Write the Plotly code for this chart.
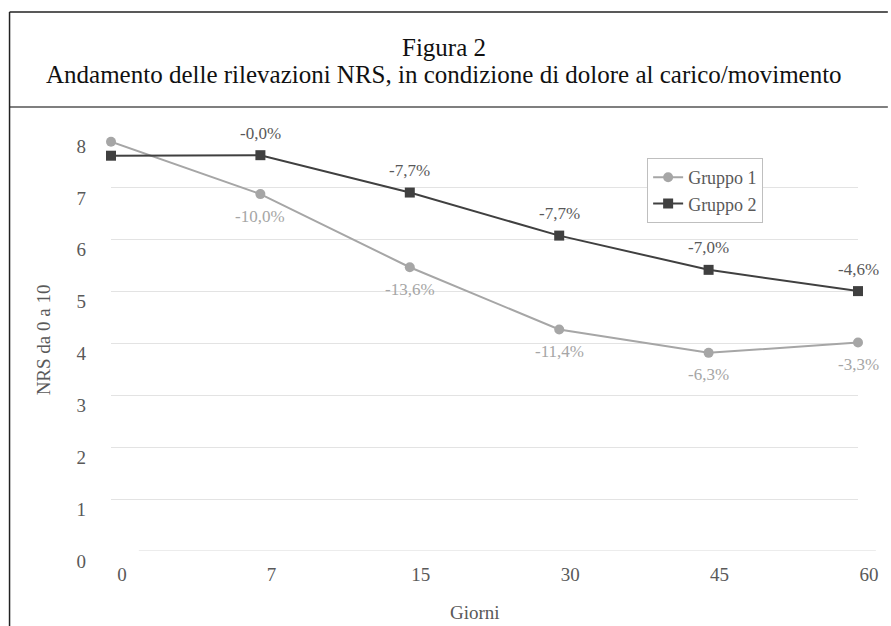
import plotly.graph_objects as go

# Follow-up days (categorical x positions)
giorni = ["0", "7", "15", "30", "45", "60"]

# Mean NRS score per group
gruppo1 = [7.89, 6.88, 5.47, 4.27, 3.82, 4.02]
gruppo2 = [7.62, 7.63, 6.91, 6.08, 5.42, 5.01]

# Percentage change labels shown next to each point
label1 = ["", "-10,0%", "-13,6%", "-11,4%", "-6,3%", "-3,3%"]
label2 = ["", "-0,0%", "-7,7%", "-7,7%", "-7,0%", "-4,6%"]

yticks = list(range(0, 9))

W, H = 891, 626
L, R, T, B = 111, 862, 136, 551  # plot area in pixels

FONT = "Liberation Serif"
C1 = "#a6a6a6"
C2 = "#404040"
TXT = "#595959"


def px(x):
    return (x - L) / (R - L)


def py(y):
    return (B - y) / (B - T)


xi = list(range(len(giorni)))

fig = go.Figure()
fig.add_trace(go.Scatter(
    x=xi, y=gruppo1, name="Gruppo 1", mode="lines+markers",
    line=dict(color=C1, width=2),
    marker=dict(symbol="circle", size=10, color=C1),
    cliponaxis=False,
))
fig.add_trace(go.Scatter(
    x=xi, y=gruppo2, name="Gruppo 2", mode="lines+markers",
    line=dict(color=C2, width=2),
    marker=dict(symbol="square", size=10, color=C2),
    cliponaxis=False,
))

annotations = []
for i, (v, t) in enumerate(zip(gruppo1, label1)):
    if t:
        annotations.append(dict(x=i, y=v, xref="x", yref="y", text=t,
                                showarrow=False, yshift=-22,
                                font=dict(family=FONT, size=17, color=C1)))
for i, (v, t) in enumerate(zip(gruppo2, label2)):
    if t:
        annotations.append(dict(x=i, y=v, xref="x", yref="y", text=t,
                                showarrow=False, yshift=22,
                                font=dict(family=FONT, size=17, color=TXT)))

# Title block
annotations.append(dict(x=0.5, y=py(48), xref="paper", yref="paper",
                        xanchor="center", yanchor="middle", showarrow=False,
                        xshift=(W / 2 - (L + R) / 2),
                        text="Figura 2",
                        font=dict(family=FONT, size=25, color="#111")))
annotations.append(dict(x=0.5, y=py(75), xref="paper", yref="paper",
                        xanchor="center", yanchor="middle", showarrow=False,
                        xshift=(W / 2 - (L + R) / 2),
                        text="Andamento delle rilevazioni NRS, in condizione di dolore al carico/movimento",
                        font=dict(family=FONT, size=25, color="#111")))
# Axis titles
annotations.append(dict(x=px(477), y=py(612), xref="paper", yref="paper",
                        xanchor="center", yanchor="middle", showarrow=False,
                        text="Giorni", font=dict(family=FONT, size=19, color=TXT)))
annotations.append(dict(x=px(43), y=py(340), xref="paper", yref="paper",
                        xanchor="center", yanchor="middle", showarrow=False,
                        textangle=-90,
                        text="NRS da 0 a 10", font=dict(family=FONT, size=19, color=TXT)))

shapes = [
    # frame
    dict(type="line", xref="paper", yref="paper", x0=px(9), x1=px(892), y0=py(12), y1=py(12),
         line=dict(color="#222", width=1.5)),
    dict(type="line", xref="paper", yref="paper", x0=px(9), x1=px(892), y0=py(107), y1=py(107),
         line=dict(color="#555", width=1.5)),
    dict(type="line", xref="paper", yref="paper", x0=px(9), x1=px(9), y0=py(12), y1=py(630),
         line=dict(color="#222", width=1.5)),
    # baseline
    dict(type="line", xref="paper", yref="y", x0=px(139), x1=px(880), y0=0, y1=0,
         line=dict(color="#d9d9d9", width=1), layer="below"),
]

fig.update_layout(
    width=W, height=H,
    margin=dict(l=L, r=W - R, t=T, b=H - B, pad=0),
    paper_bgcolor="white", plot_bgcolor="white",
    font=dict(family=FONT, color=TXT),
    showlegend=True,
    legend=dict(x=px(650), y=py(158), xanchor="left", yanchor="top",
                bordercolor="#bfbfbf", borderwidth=1, bgcolor="white",
                font=dict(family=FONT, size=18, color=TXT),
                tracegroupgap=0, itemwidth=30),
    xaxis=dict(range=[0, len(giorni) - 1], tickvals=xi, ticktext=giorni,
               showgrid=False, zeroline=False, showline=False, ticks="",
               tickfont=dict(family=FONT, size=19, color=TXT),
               ticklabelshift=11, ticklabelstandoff=10),
    yaxis=dict(range=[0, 8], tickvals=yticks, showgrid=True, gridcolor="#e3e3e3",
               gridwidth=1, zeroline=True, zerolinecolor="rgba(0,0,0,0)",
               showline=False, ticks="",
               tickfont=dict(family=FONT, size=19, color=TXT),
               ticklabelshift=10, ticklabelstandoff=24),
    annotations=annotations,
    shapes=shapes,
)

fig.write_html("out.html")
